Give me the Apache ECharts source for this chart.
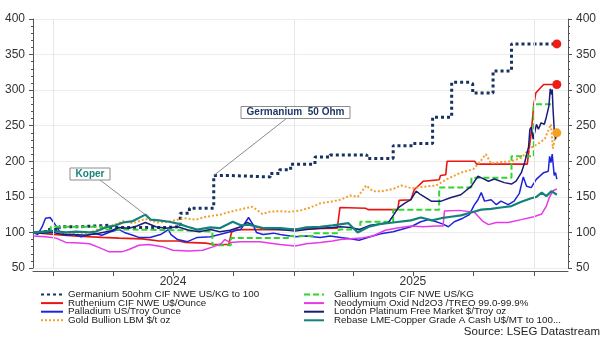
<!DOCTYPE html>
<html><head><meta charset="utf-8">
<script src="https://cdn.jsdelivr.net/npm/echarts@6/dist/echarts.min.js"></script>
<style>html,body{margin:0;padding:0;background:#fff}#c{width:602px;height:339px}</style>
</head><body><div id="c"></div>
<script>
// ---------- data ----------
const seriesNames = [
  'Germanium 50ohm CIF NWE US/KG to 100',
  'Ruthenium CIF NWE U$/Ounce',
  'Palladium US/Troy Ounce',
  'Gold Bullion LBM $/t oz',
  'Gallium Ingots CIF NWE US/KG',
  'Neodymium Oxid Nd2O3 /TREO 99.0-99.9%',
  'London Platinum Free Market $/Troy oz',
  'Rebase LME-Copper Grade A Cash U$/MT to 100...'
];
const germanium = [
  ['2023-12-01',100],['2023-12-20',104],['2024-01-10',108],['2024-02-10',110],['2024-03-25',107],
  ['2024-06-20',108],['2024-07-12',127],['2024-07-26',134],['2024-09-01',180],['2024-09-25',178],
  ['2024-11-26',183],['2024-12-10',188],['2024-12-27',196],['2025-02-02',206],['2025-02-25',209],
  ['2025-04-22',204],['2025-06-01',222],['2025-07-01',225],['2025-07-31',262],['2025-08-29',311],
  ['2025-09-25',309],['2025-09-30',296],['2025-10-31',327],['2025-11-28',365],['2026-02-05',365]
];
const ruthenium = [
  ['2023-12-01',100],['2024-01-01',97],['2024-02-01',95],['2024-03-15',93],['2024-04-10',92],
  ['2024-05-15',91],['2024-06-10',88],['2024-07-10',88],['2024-07-20',86],['2024-08-20',85],
  ['2024-09-01',83],['2024-09-24',83],['2024-09-28',100],['2024-10-05',104],['2024-11-15',104],
  ['2024-12-15',104],['2025-01-15',105],['2025-03-08',106],['2025-03-12',135],['2025-04-20',134],
  ['2025-04-24',132],['2025-06-08',132],['2025-06-10',145],['2025-06-28',146],['2025-07-03',160],
  ['2025-07-17',172],['2025-08-10',174],['2025-08-12',180],['2025-08-20',181],['2025-08-22',200],
  ['2025-10-03',200],['2025-10-06',196],['2025-12-22',196],['2025-12-28',240],['2026-01-01',280],
  ['2026-01-04',296],['2026-01-12',304],['2026-01-16',308],['2026-02-05',308]
];
const palladium = [
  ['2023-12-01',100],['2023-12-08',97],['2023-12-15',108],['2023-12-20',120],['2023-12-27',121],
  ['2024-01-03',112],['2024-01-10',102],['2024-01-20',96],['2024-02-01',97],['2024-02-12',94],
  ['2024-02-25',97],['2024-03-05',98],['2024-03-15',96],['2024-03-28',101],['2024-04-10',104],
  ['2024-04-18',100],['2024-05-01',96],['2024-05-10',93],['2024-05-27',93],['2024-06-12',97],
  ['2024-06-24',104],['2024-06-28',97],['2024-07-08',90],['2024-07-23',87],['2024-08-07',93],
  ['2024-08-27',94],['2024-09-10',97],['2024-09-26',101],['2024-10-12',104],['2024-10-24',121],
  ['2024-10-30',112],['2024-11-05',100],['2024-11-15',97],['2024-12-01',99],['2024-12-11',97],
  ['2025-01-03',94],['2025-01-20',95],['2025-02-10',93],['2025-02-25',95],['2025-03-13',93],
  ['2025-03-28',91],['2025-04-10',89],['2025-04-27',94],['2025-05-13',98],['2025-06-01',101],
  ['2025-06-13',104],['2025-06-28',108],['2025-07-13',115],['2025-07-25',118],['2025-08-02',116],
  ['2025-08-15',112],['2025-08-24',108],['2025-09-02',115],['2025-09-15',120],['2025-09-25',125],
  ['2025-10-02',138],['2025-10-08',146],['2025-10-13',156],['2025-10-18',144],['2025-10-28',146],
  ['2025-11-05',139],['2025-11-12',144],['2025-11-23',139],['2025-12-02',144],['2025-12-10',155],
  ['2025-12-16',178],['2025-12-21',165],['2025-12-28',163],['2026-01-05',175],['2026-01-16',184],
  ['2026-01-23',186],['2026-01-25',207],['2026-01-27',198],['2026-01-29',210],['2026-02-01',180],
  ['2026-02-03',184],['2026-02-05',175]
];
const gold = [
  ['2023-12-01',100],['2023-12-15',99],['2024-01-01',101],['2024-01-20',99],['2024-02-06',100],
  ['2024-02-25',99],['2024-03-10',105],['2024-04-01',110],['2024-04-16',116],['2024-05-01',113],
  ['2024-05-20',119],['2024-06-07',114],['2024-06-25',115],['2024-07-17',120],['2024-08-05',118],
  ['2024-08-20',122],['2024-09-11',125],['2024-09-26',129],['2024-10-19',134],['2024-10-30',136],
  ['2024-11-14',126],['2024-11-25',129],['2024-12-10',130],['2024-12-27',129],['2025-01-11',131],
  ['2025-01-26',135],['2025-02-10',141],['2025-02-25',143],['2025-03-13',146],['2025-03-28',152],
  ['2025-04-08',150],['2025-04-21',166],['2025-05-01',158],['2025-05-15',158],['2025-06-01',161],
  ['2025-06-13',166],['2025-06-30',162],['2025-07-15',164],['2025-08-05',166],['2025-08-22',175],
  ['2025-09-12',184],['2025-10-01',189],['2025-10-10',198],['2025-10-20',210],['2025-10-28',197],
  ['2025-11-12',199],['2025-11-28',200],['2025-12-13',205],['2025-12-26',218],['2026-01-10',226],
  ['2026-01-18',232],['2026-01-27',252],['2026-01-30',218],['2026-02-02',232],['2026-02-05',240]
];
const gallium = [
  ['2023-12-01',100],['2023-12-28',108],['2024-03-15',104],['2024-05-01',103],['2024-07-15',101],
  ['2024-08-30',82],['2024-09-27',92],['2024-12-27',95],['2025-02-01',99],['2025-03-10',104],
  ['2025-04-12',115],['2025-06-01',132],['2025-08-10',163],['2025-09-28',177],['2025-11-28',207],
  ['2026-01-01',280],['2026-01-28',280]
];
const neodymium = [
  ['2023-12-01',95],['2023-12-20',94],['2024-01-05',92],['2024-01-20',86],['2024-02-10',85],
  ['2024-02-25',84],['2024-03-10',79],['2024-03-25',73],['2024-04-15',73],['2024-04-25',76],
  ['2024-05-10',82],['2024-05-25',83],['2024-06-15',80],['2024-07-01',75],['2024-07-25',74],
  ['2024-08-15',75],['2024-09-01',80],['2024-09-12',84],['2024-09-18',90],['2024-09-26',86],
  ['2024-10-12',87],['2024-11-10',87],['2024-12-11',83],['2025-01-03',81],['2025-01-20',84],
  ['2025-02-10',86],['2025-03-01',88],['2025-03-13',90],['2025-04-13',92],['2025-05-01',95],
  ['2025-05-20',103],['2025-06-05',106],['2025-06-28',109],['2025-07-17',108],['2025-08-05',109],
  ['2025-08-16',109],['2025-08-18',130],['2025-09-10',131],['2025-10-03',128],['2025-10-15',116],
  ['2025-10-24',111],['2025-11-05',114],['2025-11-23',114],['2025-12-13',118],['2026-01-01',122],
  ['2026-01-13',126],['2026-01-20',137],['2026-01-25',150],['2026-01-31',159],['2026-02-05',161]
];
const platinum = [
  ['2023-12-01',100],['2023-12-15',99],['2024-01-01',100],['2024-01-15',97],['2024-02-01',97],
  ['2024-02-20',96],['2024-03-10',99],['2024-03-28',102],['2024-04-10',107],['2024-04-25',106],
  ['2024-05-07',109],['2024-05-20',114],['2024-06-05',108],['2024-06-20',106],['2024-07-08',108],
  ['2024-07-25',103],['2024-08-10',101],['2024-08-27',104],['2024-09-10',101],['2024-09-26',103],
  ['2024-10-12',108],['2024-10-22',114],['2024-11-05',108],['2024-11-20',105],['2024-12-11',104],
  ['2025-01-03',102],['2025-01-20',104],['2025-02-10',106],['2025-03-01',107],['2025-03-13',108],
  ['2025-03-28',107],['2025-04-10',104],['2025-04-27',110],['2025-05-13',112],['2025-05-25',114],
  ['2025-06-02',125],['2025-06-09',135],['2025-06-20',142],['2025-06-28',146],['2025-07-06',158],
  ['2025-07-13',153],['2025-07-29',144],['2025-08-13',144],['2025-08-28',149],['2025-09-12',153],
  ['2025-09-28',165],['2025-10-08',179],['2025-10-15',176],['2025-10-24',172],['2025-11-02',175],
  ['2025-11-17',170],['2025-11-28',168],['2025-12-05',172],['2025-12-13',184],['2025-12-18',198],
  ['2025-12-24',220],['2025-12-26',245],['2025-12-28',248],['2025-12-31',231],['2026-01-05',252],
  ['2026-01-08',245],['2026-01-12',254],['2026-01-17',252],['2026-01-20',262],['2026-01-23',262],
  ['2026-01-24',278],['2026-01-26',302],['2026-01-27',294],['2026-01-29',301],['2026-01-30',277],
  ['2026-02-01',245],['2026-02-03',231],['2026-02-05',241]
];
const copper = [
  ['2023-12-01',100],['2023-12-15',101],['2024-01-01',102],['2024-01-20',100],['2024-02-05',101],
  ['2024-02-25',100],['2024-03-05',101],['2024-03-20',107],['2024-04-05',110],['2024-04-16',114],
  ['2024-05-01',116],['2024-05-20',125],['2024-05-28',118],['2024-06-10',117],['2024-06-25',115],
  ['2024-07-10',112],['2024-07-23',108],['2024-08-07',104],['2024-08-27',107],['2024-09-10',106],
  ['2024-09-30',115],['2024-10-12',110],['2024-10-24',111],['2024-11-15',106],['2024-12-11',106],
  ['2025-01-03',104],['2025-01-20',107],['2025-02-10',108],['2025-03-01',110],['2025-03-25',113],
  ['2025-04-08',100],['2025-04-25',108],['2025-05-13',112],['2025-06-01',114],['2025-06-28',117],
  ['2025-07-13',121],['2025-07-30',117],['2025-08-13',120],['2025-08-28',122],['2025-09-12',124],
  ['2025-09-28',128],['2025-10-13',132],['2025-10-28',133],['2025-11-12',135],['2025-11-28',137],
  ['2025-12-13',143],['2025-12-28',148],['2026-01-05',150],['2026-01-13',156],['2026-01-20',151],
  ['2026-01-28',158],['2026-02-05',153]
];
const yMin = 50, yMax = 400, yStep = 50;
const xStart = '2023-12-01', xEnd = '2026-02-22';
const quarterTicks = ['2024-01-01','2024-04-01','2024-07-01','2024-10-01','2025-01-01','2025-04-01','2025-07-01','2025-10-01','2026-01-01'];
const yearLabelDates = ['2024-07-01','2025-07-01'];
const yearLines = ['2024-01-01','2025-01-01','2026-01-01'];
const germaniumNote = { text: 'Germanium  50 Ohm', at: ['2024-09-01', 180] };
const copperNote = { text: 'Koper', at: ['2024-05-20', 125] };
const sourceText = 'Source: LSEG Datastream';

// ---------- chart ----------
const toTs = s => { const [y, m, d] = s.split('-').map(Number); return new Date(y, m - 1, d).getTime(); };
const prep = arr => arr.map(p => [toTs(p[0]), p[1]]);
const FONT = 'Liberation Sans, Arial, sans-serif';
const last = arr => [toTs(arr[arr.length - 1][0]), arr[arr.length - 1][1]];

function mk(name, data, color, width, dash, extra) {
  return Object.assign({
    type: 'line', name, data: prep(data), symbol: 'none', showSymbol: false,
    lineStyle: { color, width, type: dash, cap: 'butt' }, itemStyle: { color },
    animation: false, silent: true
  }, extra || {});
}
const endDot = (arr, color) => ({
  silent: true, animation: false,
  data: [{ coord: last(arr), symbol: 'circle', symbolSize: 9, itemStyle: { color }, label: { show: false } }]
});

const chart = echarts.init(document.getElementById('c'), null, { renderer: 'canvas' });
// one legend box per row so the row pitch is exact
const legends = seriesNames.map((n, i) => {
  const right = i >= 4;
  return {
    orient: 'vertical', left: right ? 303 : 40, top: 288.5 + (i % 4) * 8.6, padding: 0,
    itemWidth: right ? 20 : 22, itemHeight: 4, itemStyle: { opacity: 0 }, selectedMode: false,
    data: [n],
    textStyle: { fontFamily: FONT, fontSize: 9.8, color: '#1a1a1a', lineHeight: 12, padding: right ? [0, 0, 0, 5] : 0 }
  };
});
const option = {
  backgroundColor: '#fff',
  animation: false,
  grid: { left: 33, right: 34, top: 19, bottom: 71 },
  xAxis: {
    type: 'value', min: toTs(xStart), max: toTs(xEnd), offset: 3,
    axisLine: { show: true, lineStyle: { color: '#555', width: 1 } },
    axisTick: { show: true, customValues: quarterTicks.map(toTs), length: 5, lineStyle: { color: '#555' } },
    axisLabel: { show: true, customValues: yearLabelDates.map(toTs), formatter: v => String(new Date(v).getFullYear()),
      fontFamily: FONT, fontSize: 12, color: '#333', margin: 5 },
    splitLine: { show: false }
  },
  yAxis: [
    { type: 'value', min: yMin, max: yMax, interval: yStep, position: 'left',
      axisLine: { show: true, lineStyle: { color: '#555' } },
      axisTick: { show: true, length: 4, lineStyle: { color: '#555' } },
      minorTick: { show: true, splitNumber: 5, length: 2, lineStyle: { color: '#555' } },
      axisLabel: { fontFamily: FONT, fontSize: 12, color: '#333', margin: 8 },
      splitLine: { show: true, lineStyle: { color: '#ececec', width: 1 } } },
    { type: 'value', min: yMin, max: yMax, interval: yStep, position: 'right',
      axisLine: { show: true, lineStyle: { color: '#555' } },
      axisTick: { show: true, length: 4, lineStyle: { color: '#555' } },
      minorTick: { show: true, splitNumber: 5, length: 2, lineStyle: { color: '#555' } },
      axisLabel: { fontFamily: FONT, fontSize: 12, color: '#333', margin: 8 },
      splitLine: { show: false } }
  ],
  legend: legends,
  series: [
    mk(seriesNames[0], germanium, '#17325f', 3, [3, 3], { step: 'end', z: 3, markPoint: endDot(germanium, '#ee1c14'),
      markLine: { silent: true, symbol: 'none', animation: false, label: { show: false },
        lineStyle: { color: '#e6e6e6', width: 1, type: 'solid' }, data: yearLines.map(d => ({ xAxis: toTs(d) })) } }),
    mk(seriesNames[1], ruthenium, '#e8160e', 1.6, 'solid', { z: 3, markPoint: endDot(ruthenium, '#ee1c14') }),
    mk(seriesNames[2], palladium, '#1f24d8', 1.5, 'solid', { z: 3 }),
    mk(seriesNames[3], gold, '#f3a030', 2, [2, 2], { z: 3, markPoint: endDot(gold, '#f6a020') }),
    mk(seriesNames[4], gallium, '#2fd62f', 2, [6, 3], { step: 'end', z: 3 }),
    mk(seriesNames[5], neodymium, '#e838e8', 1.5, 'solid', { z: 3 }),
    mk(seriesNames[6], platinum, '#1b1b78', 1.5, 'solid', { z: 3 }),
    mk(seriesNames[7], copper, '#14827a', 2.2, 'solid', { z: 3 })
  ]
};
chart.setOption(option);

const gp = at => chart.convertToPixel({ gridIndex: 0 }, [toTs(at[0]), at[1]]);
const pG = gp(germaniumNote.at), pK = gp(copperNote.at);
chart.setOption({
  graphic: [
    { type: 'line', shape: { x1: 287, y1: 118, x2: pG[0], y2: pG[1] }, style: { stroke: '#8c8c8c', lineWidth: 1 }, z: 10 },
    { type: 'rect', shape: { x: 241, y: 106.5, width: 109, height: 12 }, style: { fill: '#fff', stroke: '#8c8c8c', lineWidth: 1 }, z: 11 },
    { type: 'text', x: 295.5, y: 112.5, style: { text: germaniumNote.text, fill: '#1f3864', font: 'bold 10px ' + FONT, align: 'center', verticalAlign: 'middle' }, z: 12 },
    { type: 'line', shape: { x1: 100, y1: 180, x2: pK[0], y2: pK[1] }, style: { stroke: '#8c8c8c', lineWidth: 1 }, z: 10 },
    { type: 'rect', shape: { x: 70, y: 168, width: 40, height: 12 }, style: { fill: '#fff', stroke: '#8c8c8c', lineWidth: 1 }, z: 11 },
    { type: 'text', x: 90, y: 174, style: { text: copperNote.text, fill: '#15857b', font: 'bold 10px ' + FONT, align: 'center', verticalAlign: 'middle' }, z: 12 },
    { type: 'text', x: 600, y: 332, style: { text: sourceText, fill: '#222', font: '11.5px ' + FONT, align: 'right', verticalAlign: 'middle' }, z: 12 }
  ]
});
</script></body></html>
